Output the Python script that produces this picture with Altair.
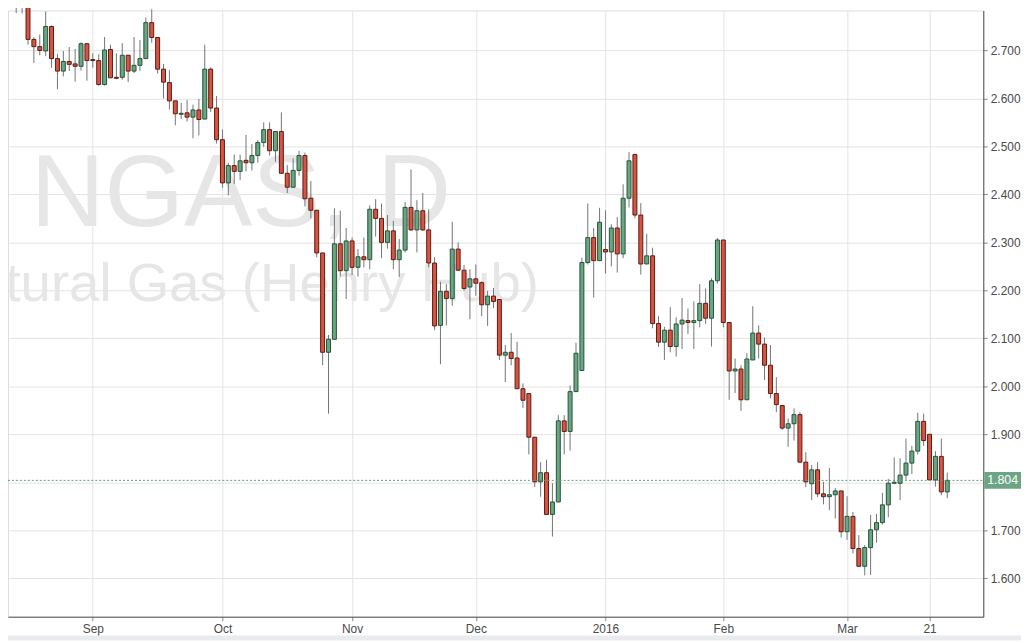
import altair as alt
import pandas as pd

# ---- data (daily NGAS candles) ----
opens = [2.830, 2.797, 2.815, 2.723, 2.708, 2.699, 2.750, 2.683, 2.657, 2.677,
         2.672, 2.667, 2.714, 2.681, 2.679, 2.629, 2.702, 2.644, 2.644, 2.690,
         2.657, 2.669, 2.683, 2.758, 2.727, 2.661, 2.633, 2.595, 2.567, 2.570,
         2.561, 2.576, 2.557, 2.661, 2.580, 2.514, 2.424, 2.460, 2.448, 2.471,
         2.466, 2.481, 2.508, 2.535, 2.491, 2.531, 2.444, 2.415, 2.450, 2.481,
         2.392, 2.367, 2.278, 2.071, 2.098, 2.297, 2.241, 2.303, 2.248, 2.270,
         2.264, 2.369, 2.350, 2.300, 2.324, 2.264, 2.284, 2.373, 2.326, 2.366,
         2.326, 2.257, 2.127, 2.198, 2.183, 2.286, 2.242, 2.207, 2.224, 2.216,
         2.170, 2.188, 2.181, 2.065, 2.071, 2.059, 1.995, 1.985, 1.894, 1.801,
         1.820, 1.733, 1.759, 1.928, 1.906, 1.989, 2.033, 2.258, 2.310, 2.262,
         2.285, 2.280, 2.330, 2.276, 2.392, 2.483, 2.357, 2.255, 2.272, 2.131,
         2.092, 2.117, 2.083, 2.130, 2.137, 2.133, 2.137, 2.173, 2.142, 2.220,
         2.305, 2.133, 2.032, 2.036, 1.972, 2.055, 2.111, 2.088, 2.044, 1.985,
         1.960, 1.913, 1.922, 1.941, 1.842, 1.797, 1.826, 1.776, 1.770, 1.774,
         1.782, 1.697, 1.729, 1.662, 1.625, 1.664, 1.701, 1.716, 1.753, 1.798,
         1.798, 1.815, 1.840, 1.865, 1.927, 1.900, 1.805, 1.854, 1.780]

highs = [2.850, 2.830, 2.822, 2.728, 2.733, 2.781, 2.752, 2.693, 2.699, 2.707,
         2.703, 2.717, 2.716, 2.694, 2.692, 2.728, 2.712, 2.694, 2.715, 2.691,
         2.728, 2.722, 2.769, 2.786, 2.728, 2.672, 2.659, 2.595, 2.591, 2.597,
         2.587, 2.599, 2.712, 2.665, 2.605, 2.535, 2.466, 2.483, 2.483, 2.524,
         2.505, 2.513, 2.550, 2.550, 2.531, 2.571, 2.461, 2.475, 2.491, 2.487,
         2.428, 2.367, 2.278, 2.107, 2.371, 2.366, 2.330, 2.310, 2.286, 2.310,
         2.377, 2.390, 2.381, 2.357, 2.345, 2.307, 2.384, 2.452, 2.388, 2.403,
         2.369, 2.269, 2.218, 2.213, 2.343, 2.300, 2.253, 2.244, 2.254, 2.219,
         2.199, 2.205, 2.181, 2.086, 2.111, 2.093, 2.006, 1.985, 1.894, 1.842,
         1.847, 1.798, 1.940, 1.940, 2.002, 2.091, 2.268, 2.381, 2.330, 2.372,
         2.367, 2.338, 2.353, 2.421, 2.488, 2.485, 2.382, 2.318, 2.289, 2.146,
         2.124, 2.165, 2.144, 2.184, 2.162, 2.177, 2.213, 2.204, 2.225, 2.309,
         2.305, 2.133, 2.058, 2.044, 2.069, 2.167, 2.127, 2.102, 2.086, 2.019,
         1.960, 1.933, 1.954, 1.947, 1.863, 1.836, 1.842, 1.801, 1.830, 1.788,
         1.782, 1.771, 1.738, 1.690, 1.669, 1.732, 1.734, 1.778, 1.807, 1.852,
         1.850, 1.891, 1.876, 1.945, 1.943, 1.900, 1.865, 1.891, 1.820]

lows = [2.778, 2.777, 2.712, 2.674, 2.690, 2.688, 2.664, 2.619, 2.646, 2.657,
        2.635, 2.658, 2.637, 2.664, 2.627, 2.627, 2.643, 2.640, 2.639, 2.634,
        2.653, 2.657, 2.683, 2.716, 2.652, 2.600, 2.577, 2.544, 2.557, 2.552,
        2.517, 2.523, 2.557, 2.572, 2.506, 2.414, 2.398, 2.422, 2.430, 2.448,
        2.450, 2.466, 2.499, 2.481, 2.468, 2.444, 2.403, 2.415, 2.439, 2.375,
        2.350, 2.269, 2.044, 1.943, 2.098, 2.229, 2.182, 2.232, 2.229, 2.248,
        2.244, 2.312, 2.267, 2.287, 2.244, 2.228, 2.279, 2.324, 2.279, 2.324,
        2.248, 2.117, 2.046, 2.127, 2.168, 2.242, 2.199, 2.140, 2.189, 2.146,
        2.126, 2.163, 2.055, 2.009, 2.044, 1.995, 1.955, 1.858, 1.790, 1.770,
        1.733, 1.687, 1.759, 1.858, 1.866, 1.989, 2.033, 2.254, 2.185, 2.262,
        2.235, 2.250, 2.237, 2.267, 2.373, 2.350, 2.233, 2.255, 2.121, 2.082,
        2.055, 2.071, 2.062, 2.078, 2.109, 2.078, 2.123, 2.130, 2.083, 2.214,
        2.123, 1.972, 1.986, 1.949, 1.972, 2.055, 2.058, 2.013, 1.975, 1.946,
        1.909, 1.874, 1.887, 1.842, 1.790, 1.763, 1.769, 1.754, 1.742, 1.725,
        1.685, 1.680, 1.652, 1.625, 1.606, 1.607, 1.674, 1.712, 1.727, 1.796,
        1.763, 1.805, 1.817, 1.858, 1.876, 1.805, 1.791, 1.773, 1.767]

closes = [2.797, 2.815, 2.723, 2.708, 2.700, 2.750, 2.683, 2.657, 2.677, 2.671,
          2.667, 2.714, 2.679, 2.679, 2.629, 2.701, 2.643, 2.642, 2.690, 2.657,
          2.669, 2.683, 2.758, 2.727, 2.661, 2.634, 2.595, 2.568, 2.569, 2.561,
          2.576, 2.556, 2.661, 2.580, 2.514, 2.424, 2.460, 2.448, 2.470, 2.466,
          2.481, 2.508, 2.535, 2.491, 2.531, 2.444, 2.415, 2.450, 2.481, 2.391,
          2.367, 2.278, 2.071, 2.098, 2.297, 2.241, 2.303, 2.248, 2.270, 2.264,
          2.369, 2.350, 2.300, 2.324, 2.264, 2.284, 2.373, 2.326, 2.366, 2.326,
          2.257, 2.126, 2.198, 2.183, 2.286, 2.242, 2.204, 2.224, 2.215, 2.170,
          2.188, 2.177, 2.065, 2.071, 2.058, 1.995, 1.971, 1.894, 1.801, 1.820,
          1.733, 1.759, 1.928, 1.906, 1.989, 2.069, 2.258, 2.310, 2.262, 2.342,
          2.280, 2.330, 2.276, 2.392, 2.470, 2.357, 2.255, 2.272, 2.131, 2.092,
          2.117, 2.083, 2.130, 2.138, 2.133, 2.137, 2.173, 2.142, 2.220, 2.305,
          2.133, 2.032, 2.036, 1.972, 2.057, 2.111, 2.088, 2.044, 1.985, 1.962,
          1.913, 1.922, 1.941, 1.842, 1.801, 1.826, 1.776, 1.770, 1.774, 1.782,
          1.697, 1.729, 1.662, 1.625, 1.664, 1.701, 1.716, 1.753, 1.798, 1.800,
          1.815, 1.840, 1.865, 1.927, 1.887, 1.805, 1.854, 1.780, 1.804]

start_date = "2015-08-13"
end_date = "2016-03-24"
closed_days = ["2015-12-25", "2016-01-01"]
tick_dates = ["2015-09-01", "2015-10-01", "2015-11-02", "2015-12-01",
              "2016-01-04", "2016-02-01", "2016-03-01", "2016-03-21"]
tick_labels = ["Sep", "Oct", "Nov", "Dec", "2016", "Feb", "Mar", "21"]
price_ticks = [1.6, 1.7, 1.8, 1.9, 2.0, 2.1, 2.2, 2.3, 2.4, 2.5, 2.6, 2.7]
watermark_symbol = "NGAS, D"
watermark_name = "Natural Gas (Henry Hub)"

# ---- build table ----
dates = [d.strftime("%Y-%m-%d") for d in pd.bdate_range(start_date, end_date)
         if d.strftime("%Y-%m-%d") not in closed_days]
n = len(closes)
dates = dates[:n]
df = pd.DataFrame({
    "i": list(range(n)), "date": dates,
    "open": opens, "high": highs, "low": lows, "close": closes,
})
df["dir"] = ["up" if c >= o else "down" for o, c in zip(opens, closes)]

tick_idx = [dates.index(d) for d in tick_dates]
label_expr = "''"
for idx, lab in reversed(list(zip(tick_idx, tick_labels))):
    label_expr = f"datum.value == {idx} ? '{lab}' : ({label_expr})"

last_price = closes[-1]
# the price tag hides the nearest round-number label, as in the reference
y_label_expr = f"abs(datum.value - {last_price}) < 0.03 ? '' : format(datum.value, '.3f')"

W, H = 983, 611
FONT = "Liberation Sans"
x_scale = alt.Scale(domain=[-0.55, 163.28], nice=False, zero=False)
y_scale = alt.Scale(domain=[1.5199, 2.7833], nice=False, zero=False)

fill_scale = alt.Scale(domain=["up", "down"], range=["#6ba583", "#d75442"])
stroke_scale = alt.Scale(domain=["up", "down"], range=["#225437", "#5b1a13"])

base = alt.Chart(df)

wicks = base.mark_rule(color="#737375", strokeWidth=1).encode(
    x=alt.X("i:Q", scale=x_scale,
            axis=alt.Axis(values=tick_idx, labelExpr=label_expr, title=None,
                          grid=True, gridColor="#e3e3e3", domainColor="#4d4d4d",
                          tickColor="#8a8a8a", tickSize=4, labelPadding=3,
                          labelFontSize=12, labelColor="#4a4a4a", labelFont=FONT,
                          labelFlush=False)),
    y=alt.Y("low:Q", scale=y_scale,
            axis=alt.Axis(orient="right", values=price_ticks, labelExpr=y_label_expr,
                          title=None,
                          grid=True, gridColor="#e3e3e3", domainColor="#4d4d4d",
                          tickColor="#8a8a8a", tickSize=4, labelPadding=3,
                          labelFontSize=12, labelColor="#4a4a4a", labelFont=FONT)),
    y2="high:Q",
)

bodies = base.mark_bar(size=4, strokeWidth=1).encode(
    x="i:Q",
    y="open:Q",
    y2="close:Q",
    fill=alt.Fill("dir:N", scale=fill_scale, legend=None),
    stroke=alt.Stroke("dir:N", scale=stroke_scale, legend=None),
)

wm_df = pd.DataFrame({"sym": [watermark_symbol], "name": [watermark_name]})
wm1 = alt.Chart(wm_df).mark_text(
    font=FONT, fontSize=103, color="#e6e6e6", align="left", baseline="alphabetic", clip=True
).encode(text="sym:N", x=alt.value(23), y=alt.value(217.7))
wm2 = alt.Chart(wm_df).mark_text(
    font=FONT, fontSize=55, color="#e6e6e6", align="left", baseline="alphabetic", clip=True
).encode(text="name:N", x=alt.value(-72.9), y=alt.value(292.7))

last_df = pd.DataFrame({"last": [last_price]})
price_line = alt.Chart(last_df).mark_rule(color="#5f9e7a", strokeDash=[2, 2], strokeWidth=1).encode(
    y=alt.Y("last:Q", scale=y_scale), x=alt.value(0), x2=alt.value(W)
)
tag = alt.Chart(last_df).mark_rect(color="#6ba583", yOffset=-8.5, y2Offset=8.5).encode(
    y=alt.Y("last:Q", scale=y_scale), y2="last:Q", x=alt.value(W + 1), x2=alt.value(W + 38)
)
tag_text = alt.Chart(last_df).mark_text(
    color="white", font=FONT, fontSize=12.5, align="center", baseline="middle"
).encode(y=alt.Y("last:Q", scale=y_scale), x=alt.value(W + 19.5),
         text=alt.Text("last:Q", format=".3f"))

strip = alt.Chart(last_df).mark_rect(color="#e9ebee").encode(
    x=alt.value(-8), x2=alt.value(W + 38), y=alt.value(H + 19), y2=alt.value(H + 24)
)

chart = alt.layer(wm1, wm2, wicks, bodies, price_line, tag, tag_text, strip).properties(
    width=W, height=H,
    autosize=alt.AutoSizeParams(type="none"),
    padding={"left": 0, "top": 0, "right": 38, "bottom": 24},
).configure_view(strokeWidth=0).configure(background="white")

chart.save("out.html", embed_options={"renderer": "svg", "actions": False})
